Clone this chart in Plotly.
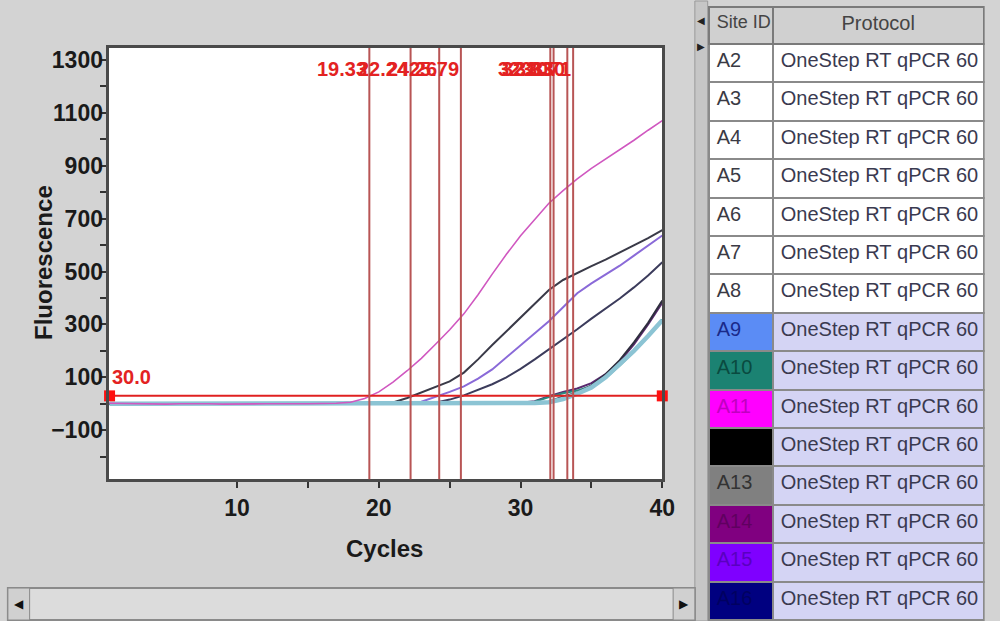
import plotly.graph_objects as go

# ---------------- data ----------------
cycles = list(range(1, 41))

curve_ids = ["A14", "A10", "A16", "A13", "A15", "A12", "A9", "A11"]
curve_colors = ["#5a2a70", "#2a8a80", "#3c3c5c", "#3a3a48", "#8a6ad8", "#2e2e3e", "#8cc4d4", "#d058c0"]
curve_widths = [2, 2, 2, 2, 2, 2, 4.5, 1.6]

f_A14 = [0, 1, -1, 0, 1, 0, -1, 0, 1, 0, 0, -1, 0, 1, 0, 0, -1, 0, 1, 0,
         0, -1, 0, 1, 0, 0, 1, 0, 2, 4, 10, 29, 45, 58, 78, 112, 160, 225, 300, 382]
f_A10 = [1, 0, 0, -1, 0, 1, 0, 0, -1, 0, 1, 0, 0, 0, -1, 0, 1, 0, 0, -1,
         0, 1, 0, 0, -1, 0, 0, 1, 2, 3, 8, 26, 40, 50, 68, 98, 145, 198, 254, 318]
f_A16 = [-1, 0, 1, 0, 0, -1, 0, 1, 0, 0, -1, 0, 1, 0, 0, -1, 0, 1, 0, 0,
         1, 0, 1, 4, 16, 32, 52, 74, 100, 132, 168, 205, 242, 282, 322, 360, 398, 440, 485, 535]
f_A13 = [0, 1, 0, -1, 0, 0, 1, 0, -1, 0, 0, 1, 0, 0, -1, 0, 1, 0, 1, 2,
         5, 22, 42, 62, 85, 118, 168, 222, 275, 328, 380, 430, 468, 495, 520, 545, 572, 598, 626, 656]
f_A15 = [1, 0, -1, 0, 1, 0, 0, -1, 0, 1, 0, 0, -1, 0, 1, 0, 0, -1, 0, 1,
         0, 2, 8, 26, 45, 66, 95, 130, 175, 222, 268, 312, 365, 418, 455, 488, 522, 560, 598, 636]
f_A12 = [0, -1, 0, 1, 0, 0, -1, 0, 1, 0, 0, -1, 0, 1, 0, 0, -1, 0, 1, 0,
         0, -1, 0, 1, 0, 0, -1, 0, 1, 2, 3, 8, 28, 42, 70, 112, 165, 232, 306, 390]
f_A9 = [0, 0, 1, 0, -1, 0, 0, 1, 0, -1, 0, 0, 1, 0, -1, 0, 0, 1, 0, -1,
        0, 0, 1, 0, -1, 0, 0, 1, 0, 2, 3, 6, 18, 38, 62, 100, 148, 200, 256, 316]
f_A11 = [2, 1, 0, 1, -1, 0, 1, 0, -1, 0, 1, 0, 0, -1, 0, 1, 2, 6, 20, 45,
         82, 125, 172, 225, 280, 340, 412, 490, 565, 635, 698, 758, 806, 850, 890, 925, 960, 996, 1034, 1070]
curve_values = [f_A14, f_A10, f_A16, f_A13, f_A15, f_A12, f_A9, f_A11]

ct_values = [19.33, 22.24, 24.26, 25.79, 32.10, 32.33, 33.30, 33.71]
threshold = 30.0

x_ticks = [10, 20, 30, 40]
x_minor = [15, 25, 35]
y_ticks = [-100, 100, 300, 500, 700, 900, 1100, 1300]
y_minor = [-200, 0, 200, 400, 600, 800, 1000, 1200]

site_ids = ["A2", "A3", "A4", "A5", "A6", "A7", "A8", "A9", "A10", "A11", "A12", "A13", "A14", "A15", "A16"]
protocols = ["OneStep RT qPCR 60"] * 15
site_fill = ["white"] * 7 + ["#5b8cf5", "#1b8272", "#ff00ff", "#000000", "#808080", "#800080", "#7f00ff", "#000080"]
site_font = ["#3a3a44"] * 7 + ["#1a2a8a", "#0a4a40", "#c000c0", "#000000", "#333333", "#600060", "#5a00c0", "#000060"]
proto_fill = ["white"] * 7 + ["#d4d4f4"] * 8

# ---------------- figure ----------------
W, H = 1000, 621
def px(x):
    return x / W
def py(y):
    return 1 - y / H

FONT = "Liberation Sans, Arial, sans-serif"
NBSP = "\u00a0"

fig = go.Figure()

for cid, col, wd, vals in zip(curve_ids, curve_colors, curve_widths, curve_values):
    fig.add_trace(go.Scatter(x=cycles, y=vals, mode="lines", name=cid,
                             line=dict(color=col, width=wd), hoverinfo="skip"))

# Ct vertical lines and labels
for ct in ct_values:
    fig.add_vline(x=ct, line=dict(color="#b85555", width=2))
    fig.add_annotation(x=ct, y=1265, xref="x", yref="y", text=f"{ct:.2f}", showarrow=False,
                       xanchor="right", yanchor="middle",
                       font=dict(family=FONT, size=20, color="#e32222", weight="bold"))

# threshold line with end markers
fig.add_trace(go.Scatter(x=[cycles[0], cycles[-1]], y=[threshold, threshold], mode="lines+markers",
                         line=dict(color="#e02020", width=2), cliponaxis=False,
                         marker=dict(symbol="square", size=11, color="#ff1010"),
                         hoverinfo="skip"))

fig.add_annotation(x=cycles[0], y=100, xref="x", yref="y", text=f"{threshold:.1f}", showarrow=False,
                   xanchor="left", yanchor="middle", xshift=0,
                   font=dict(family=FONT, size=20, color="#e32222", weight="bold"))

# table
fig.add_trace(go.Table(
    domain=dict(x=[px(718), px(997)], y=[0, py(6)]),
    columnwidth=[65, 214],
    header=dict(values=[s.replace(" ", NBSP) for s in ["Site ID", "Protocol"]], fill_color="#d0d0d0",
                line=dict(color="#7a7a7a", width=2), align=["left", "center"],
                font=dict(family=FONT, size=[18, 20], color="#444444"), height=37),
    cells=dict(values=[site_ids, [p.replace(" ", NBSP) for p in protocols]],
               fill_color=[site_fill, proto_fill],
               line=dict(color="#8a8a8a", width=2), align="left",
               font=dict(family=FONT, size=20, color=[site_font, ["#3a3a50"] * 15]),
               height=38.4),
))

axis_font = dict(family=FONT, size=23, color="#1a1a1a", weight="bold")
fig.update_layout(
    width=W, height=H, autosize=False, margin=dict(l=0, r=0, t=0, b=0),
    paper_bgcolor="#d3d3d3", plot_bgcolor="white", showlegend=False,
    xaxis=dict(domain=[px(110), px(671)], range=[0.93, 40], tickvals=x_ticks,
               ticks="outside", ticklen=6, tickwidth=2, tickcolor="#333",
               minor=dict(tickvals=x_minor, ticks="outside", ticklen=6, tickwidth=2, tickcolor="#333"),
               showgrid=False, zeroline=False, showline=True, mirror=True,
               linecolor="#4a4a4a", linewidth=3, tickfont=axis_font),
    yaxis=dict(domain=[py(479), py(47)], range=[-285, 1345], tickvals=y_ticks,
               ticks="outside", ticklen=6, tickwidth=2, tickcolor="#333", ticklabelstandoff=-8,
               minor=dict(tickvals=y_minor, ticks="outside", ticklen=6, tickwidth=2, tickcolor="#333"),
               showgrid=False, zeroline=False, showline=True, mirror=True,
               linecolor="#4a4a4a", linewidth=3, tickfont=axis_font),
)

fig.add_annotation(x=px(390), y=py(548), xref="paper", yref="paper", text="Cycles", showarrow=False,
                   xanchor="center", yanchor="middle",
                   font=dict(family=FONT, size=24, color="#1a1a1a", weight="bold"))
fig.add_annotation(x=px(44), y=py(262), xref="paper", yref="paper", text="Fluorescence", showarrow=False,
                   textangle=-90, xanchor="center", yanchor="middle",
                   font=dict(family=FONT, size=24, color="#1a1a1a", weight="bold"))

# splitter strip between chart and table
fig.add_shape(type="rect", xref="paper", yref="paper", x0=px(704), x1=px(717), y0=0, y1=1,
              fillcolor="#c6c6c6", line=dict(color="#9a9a9a", width=1), layer="below")
fig.add_annotation(x=px(710), y=py(20), xref="paper", yref="paper", text="◀", showarrow=False,
                   xanchor="center", yanchor="middle",
                   font=dict(family="DejaVu Sans", size=10, color="#222"))
fig.add_annotation(x=px(710), y=py(46), xref="paper", yref="paper", text="▶", showarrow=False,
                   xanchor="center", yanchor="middle",
                   font=dict(family="DejaVu Sans", size=10, color="#222"))

# bottom scrollbar
fig.add_shape(type="rect", xref="paper", yref="paper", x0=px(8), x1=px(704), y0=py(620), y1=py(588),
              fillcolor="#dcdcdc", line=dict(color="#8a8a8a", width=2), layer="below")
fig.add_shape(type="rect", xref="paper", yref="paper", x0=px(8), x1=px(30), y0=py(620), y1=py(588),
              fillcolor="#d0d0d0", line=dict(color="#8a8a8a", width=1), layer="below")
fig.add_shape(type="rect", xref="paper", yref="paper", x0=px(682), x1=px(704), y0=py(620), y1=py(588),
              fillcolor="#d0d0d0", line=dict(color="#8a8a8a", width=1), layer="below")
fig.add_annotation(x=px(19), y=py(604), xref="paper", yref="paper", text="◀", showarrow=False,
                   xanchor="center", yanchor="middle",
                   font=dict(family="DejaVu Sans", size=12, color="#111"))
fig.add_annotation(x=px(693), y=py(604), xref="paper", yref="paper", text="▶", showarrow=False,
                   xanchor="center", yanchor="middle",
                   font=dict(family="DejaVu Sans", size=12, color="#111"))

post = ("document.documentElement.style.overflow='hidden';"
        "document.body.style.margin='0';document.body.style.padding='0';document.body.style.overflow='hidden';")

fig.write_html("out.html", config={"displayModeBar": False, "responsive": False}, post_script=post)
